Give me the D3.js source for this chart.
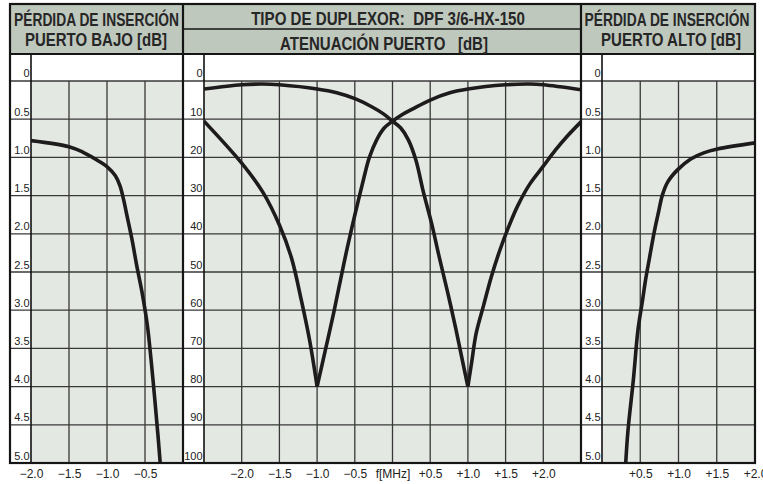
<!DOCTYPE html>
<html>
<head>
<meta charset="utf-8">
<script src="https://cdn.jsdelivr.net/npm/d3@7"></script>
<style>
  body { margin: 0; background: #fff; }
  svg text { font-family: "Liberation Sans", Arial, sans-serif; fill: #222; }
  .hdr { font-family: "Liberation Sans Narrow", "Arial Narrow", "Liberation Sans", sans-serif;
         font-weight: bold; font-size: 18px; white-space: pre; fill: #262626; }
  .ylab { font-size: 11px; }
  .xlab text { font-size: 12px; fill: #222; font-family: "Liberation Sans", Arial, sans-serif; }
</style>
</head>
<body>
<div id="display"></div>
<script>
// ------- values ---------------------------------------

var lossTicks = ["0", "0.5", "1.0", "1.5", "2.0", "2.5", "3.0", "3.5", "4.0", "4.5", "5.0"];
var attTicks = ["0", "10", "20", "30", "40", "50", "60", "70", "80", "90", "100"];

var lowFreqTicks = [-2.0, -1.5, -1.0, -0.5];
var lowFreqLabels = ["\u22122.0", "\u22121.5", "\u22121.0", "\u22120.5"];
var midFreqTicks = [-2.0, -1.5, -1.0, -0.5, 0, 0.5, 1.0, 1.5, 2.0];
var midFreqLabels = ["\u22122.0", "\u22121.5", "\u22121.0", "\u22120.5", "f[MHz]", "+0.5", "+1.0", "+1.5", "+2.0"];
var highFreqTicks = [0.5, 1.0, 1.5, 2.0];
var highFreqLabels = ["+0.5", "+1.0", "+1.5", "+2.0"];

// insertion loss, low port (MHz, dB)
var lowLossFreq = [-2.0, -1.5, -1.32, -1.09, -0.99, -0.89, -0.83, -0.78, -0.74, -0.67, -0.61,
                   -0.54, -0.47, -0.42, -0.37, -0.33, -0.30];
var lowLossDb   = [0.78, 0.86, 0.93, 1.06, 1.13, 1.24, 1.37, 1.56, 1.75, 2.08, 2.41,
                   2.76, 3.19, 3.65, 4.18, 4.63, 5.0];

// insertion loss, high port (MHz, dB)
var highLossFreq = [0.31, 0.34, 0.41, 0.47, 0.53, 0.57, 0.62, 0.68, 0.74, 0.79, 0.86, 0.99,
                    1.16, 1.33, 1.51, 2.0];
var highLossDb   = [5.0, 4.57, 3.91, 3.26, 2.87, 2.60, 2.32, 1.99, 1.71, 1.49, 1.32, 1.16,
                    1.02, 0.94, 0.89, 0.81];

// port attenuation, notch at +1.0 MHz
var attAFreq = [-2.5, -2.0, -1.72, -1.5, -1.0, -0.74, -0.49, -0.27, -0.12, 0.0, 0.11, 0.21, 0.31,
                0.41, 0.52, 0.62, 0.73, 0.84, 0.92, 1.0,
                1.05, 1.11, 1.21, 1.31, 1.42, 1.54, 1.66, 1.82, 2.0, 2.16, 2.32, 2.5];
var attADb   = [2.1, 1.0, 0.8, 1.0, 2.1, 3.1, 4.7, 6.8, 8.6, 10.5, 12.3, 15.4, 20.7,
                29.1, 37.4, 46.1, 55.2, 64.9, 72.5, 80,
                73.6, 66, 58.6, 51.3, 44.5, 38.2, 32.7, 27, 22.3, 18.1, 14.4, 10.7];

// port attenuation, notch at -1.0 MHz
var attBFreq = [-2.5, -2.0, -1.72, -1.5, -1.34, -1.21, -1.10, -1.0,
                -0.89, -0.78, -0.69, -0.60, -0.49, -0.38, -0.31, -0.21, -0.11, 0.0,
                0.12, 0.27, 0.5, 0.76, 1.0, 1.5, 1.82, 2.0, 2.5];
var attBDb   = [10.5, 21.5, 29.1, 37.7, 46.3, 57.3, 67.8, 80,
                70.4, 60.7, 52.1, 43.7, 34.3, 25.4, 20.2, 15.4, 12.3, 10.5,
                8.9, 7.3, 5.0, 3.1, 2.1, 1.0, 0.8, 1.0, 2.3];

// ------- layout -----------

var W = 763, H = 484;
var frameTop = 4, hdrBottom = 54, gridTop = 81, frameBottom = 463;
var labW = 21;
var hdrFill = "#bfc8bd", gridFill = "#e4e8e3", ink = "#1d1b1b", gridInk = "#383838";

var panels = [
  {id: "low", x0: 10, x1: 183, dom: [-2, 0], yMax: 5, yLabels: lossTicks,
   ticks: lowFreqTicks, tickLabels: lowFreqLabels,
   title: [{t: "PÉRDIDA DE INSERCIÓN", cx: 96.5, y: 26, w: 165},
           {t: "PUERTO BAJO [dB]", cx: 96, y: 46, w: 142}]},
  {id: "mid", x0: 183, x1: 581, dom: [-2.5, 2.5], yMax: 100, yLabels: attTicks,
   ticks: midFreqTicks, tickLabels: midFreqLabels,
   title: [{t: "TIPO DE DUPLEXOR:  DPF 3/6-HX-150", cx: 388, y: 25, w: 274},
           {t: "ATENUACIÓN PUERTO   [dB]", cx: 384, y: 50, w: 208}]},
  {id: "high", x0: 581, x1: 755, dom: [0, 2], yMax: 5, yLabels: lossTicks,
   ticks: highFreqTicks, tickLabels: highFreqLabels,
   title: [{t: "PÉRDIDA DE INSERCIÓN", cx: 667, y: 26, w: 165},
           {t: "PUERTO ALTO [dB]", cx: 671, y: 46, w: 140}]}
];

panels.forEach(function(p) {
  p.x = d3.scaleLinear().domain(p.dom).range([p.x0 + labW, p.x1]);
  p.y = d3.scaleLinear().domain([0, p.yMax]).range([gridTop, frameBottom]);
});

var svg = d3.select("#display").append("svg")
  .attr("width", W).attr("height", H);

var defs = svg.append("defs");

// ------- header band and panel backgrounds -----------

svg.append("rect")
  .attr("x", 10).attr("y", frameTop)
  .attr("width", 745).attr("height", hdrBottom - frameTop)
  .style("fill", hdrFill);

panels.forEach(function(p) {
  var g = svg.append("g").classed("panel_" + p.id, true);

  g.append("rect")
    .attr("x", p.x0).attr("y", hdrBottom)
    .attr("width", p.x1 - p.x0).attr("height", frameBottom - hdrBottom)
    .style("fill", "#fff");

  g.append("rect")
    .attr("x", p.x0 + labW).attr("y", gridTop)
    .attr("width", p.x1 - p.x0 - labW).attr("height", frameBottom - gridTop)
    .style("fill", gridFill);

  // vertical grid every 0.5 MHz
  var vx = d3.range(p.dom[0] + 0.5, p.dom[1] - 0.01, 0.5);
  g.selectAll("line.v").data(vx).enter().append("line")
    .attr("x1", function(d) { return p.x(d); })
    .attr("x2", function(d) { return p.x(d); })
    .attr("y1", gridTop).attr("y2", frameBottom)
    .style("stroke", gridInk).style("stroke-width", 1.3);

  // horizontal grid at each labelled value
  g.selectAll("line.h").data(p.yLabels).enter().append("line")
    .attr("x1", p.x0).attr("x2", p.x1)
    .attr("y1", function(d) { return p.y(+d); })
    .attr("y2", function(d) { return p.y(+d); })
    .style("stroke", gridInk).style("stroke-width", 1.3);

  // label column separator
  g.append("line")
    .attr("x1", p.x0 + labW).attr("x2", p.x0 + labW)
    .attr("y1", hdrBottom).attr("y2", frameBottom)
    .style("stroke", "#111").style("stroke-width", 1.6);

  g.selectAll("text.ylab").data(p.yLabels).enter().append("text")
    .classed("ylab", true)
    .attr("x", p.x0 + labW - 1.5)
    .attr("y", function(d) { return p.y(+d) - (+d === 0 ? 4.5 : 3.5); })
    .attr("text-anchor", "end")
    .text(function(d) { return d; });

  defs.append("clipPath").attr("id", "clip_" + p.id)
    .append("rect")
    .attr("x", p.x0 + labW).attr("y", gridTop)
    .attr("width", p.x1 - p.x0 - labW).attr("height", frameBottom - gridTop);
});

// ------- curves -----------

function draw_curve(p, freq, db) {
  var pts = freq.map(function(f, i) { return [f, db[i]]; });
  // split at the notch so the cusp stays sharp
  var peak = d3.maxIndex(db);
  var pieces = (peak > 0 && peak < db.length - 1 && p.id === "mid")
    ? [pts.slice(0, peak + 1), pts.slice(peak)]
    : [pts];
  var line = d3.line()
    .x(function(d) { return p.x(d[0]); })
    .y(function(d) { return p.y(d[1]); })
    .curve(d3.curveCatmullRom.alpha(0.5));
  svg.append("g").attr("clip-path", "url(#clip_" + p.id + ")")
    .selectAll("path").data(pieces).enter().append("path")
    .attr("d", line)
    .style("fill", "none")
    .style("stroke", ink)
    .style("stroke-width", 3.6)
    .style("stroke-linejoin", "round");
}

draw_curve(panels[0], lowLossFreq, lowLossDb);
draw_curve(panels[1], attAFreq, attADb);
draw_curve(panels[1], attBFreq, attBDb);
draw_curve(panels[2], highLossFreq, highLossDb);

// ------- frame lines -----------

var frame = svg.append("g").style("stroke", "#151515").style("fill", "none");
frame.append("rect")
  .attr("x", 10).attr("y", frameTop)
  .attr("width", 745).attr("height", frameBottom - frameTop)
  .style("stroke-width", 2.2);
frame.append("line")
  .attr("x1", 10).attr("x2", 755).attr("y1", hdrBottom).attr("y2", hdrBottom)
  .style("stroke-width", 1.8);
frame.append("line")
  .attr("x1", 183).attr("x2", 581).attr("y1", 29).attr("y2", 29)
  .style("stroke-width", 1.4);
[183, 581].forEach(function(xx) {
  frame.append("line")
    .attr("x1", xx).attr("x2", xx).attr("y1", frameTop).attr("y2", frameBottom)
    .style("stroke-width", 2.2);
});

// ------- titles (squeezed to the sheet's condensed lettering) -----------

panels.forEach(function(p) {
  svg.selectAll(null).data(p.title).enter().append("text")
    .classed("hdr", true)
    .attr("text-anchor", "middle")
    .text(function(d) { return d.t; })
    .each(function(d) {
      var natural = this.getComputedTextLength() || d.w;
      var sx = d.w / natural;
      d3.select(this).attr("transform",
        "translate(" + d.cx + "," + d.y + ") scale(" + sx + ",1)");
    });
});

// ------- frequency axes under the panels -----------

panels.forEach(function(p) {
  var axis = d3.axisBottom(p.x)
    .tickValues(p.ticks)
    .tickSize(0)
    .tickPadding(0)
    .tickFormat(function(d, i) { return p.tickLabels[i]; });
  var ag = svg.append("g").classed("xlab", true)
    .attr("transform", "translate(0," + 469 + ")")
    .call(axis);
  ag.select(".domain").remove();
  ag.selectAll("text").attr("dy", "0.71em");
});
</script>
</body>
</html>
